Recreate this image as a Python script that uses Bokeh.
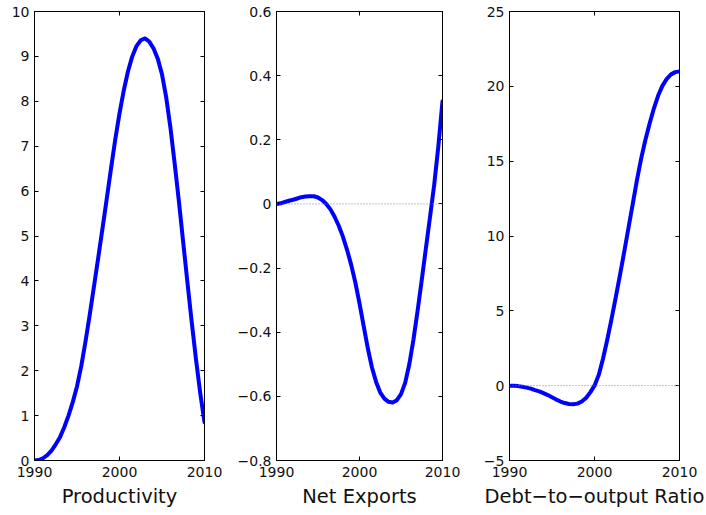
from bokeh.plotting import figure
from bokeh.layouts import row
from bokeh.models import LinearAxis, FixedTicker, Span, Range1d, ColumnDataSource
from bokeh.embed import file_html
from bokeh.resources import INLINE

years = [1990.0, 1990.5, 1991.0, 1991.5, 1992.0, 1992.5, 1993.0, 1993.5, 1994.0, 1994.5,
         1995.0, 1995.5, 1996.0, 1996.5, 1997.0, 1997.5, 1998.0, 1998.5, 1999.0, 1999.5,
         2000.0, 2000.5, 2001.0, 2001.5, 2002.0, 2002.5, 2003.0, 2003.5, 2004.0, 2004.5,
         2005.0, 2005.5, 2006.0, 2006.5, 2007.0, 2007.5, 2008.0, 2008.5, 2009.0, 2009.5,
         2010.0]

productivity = [0.0, 0.01, 0.05, 0.12, 0.22, 0.36, 0.52, 0.74, 1.0, 1.3,
                1.65, 2.1, 2.65, 3.25, 3.88, 4.52, 5.17, 5.83, 6.5, 7.15,
                7.73, 8.24, 8.67, 9.0, 9.23, 9.36, 9.4, 9.33, 9.18, 8.95,
                8.6, 8.08, 7.4, 6.6, 5.75, 4.85, 3.95, 3.08, 2.25, 1.5,
                0.85]

net_exports = [0.0, 0.002, 0.006, 0.01, 0.013, 0.017, 0.021, 0.023, 0.024, 0.024,
               0.02, 0.012, 0.0, -0.017, -0.04, -0.068, -0.102, -0.143, -0.19, -0.245,
               -0.31, -0.38, -0.45, -0.51, -0.555, -0.588, -0.607, -0.617, -0.619, -0.612,
               -0.593, -0.558, -0.5, -0.423, -0.333, -0.237, -0.138, -0.04, 0.06, 0.18,
               0.32]

debt_to_output = [0.0, -0.01, -0.03, -0.07, -0.13, -0.2, -0.3, -0.38, -0.5, -0.63,
                  -0.78, -0.93, -1.06, -1.16, -1.22, -1.24, -1.2, -1.06, -0.82, -0.45,
                  0.0, 0.72, 1.8, 3.07, 4.45, 5.9, 7.4, 8.95, 10.55, 12.15,
                  13.75, 15.2, 16.45, 17.55, 18.55, 19.4, 20.05, 20.5, 20.8, 20.95,
                  21.0]

x_ticks = [1990, 2000, 2010]
prod_ticks = [0, 1, 2, 3, 4, 5, 6, 7, 8, 9, 10]
prod_labels = ["0", "1", "2", "3", "4", "5", "6", "7", "8", "9", "10"]
nx_ticks = [-0.8, -0.6, -0.4, -0.2, 0, 0.2, 0.4, 0.6]
nx_labels = ["\u22120.8", "\u22120.6", "\u22120.4", "\u22120.2", "0", "0.2", "0.4", "0.6"]
debt_ticks = [-5, 0, 5, 10, 15, 20, 25]
debt_labels = ["\u22125", "0", "5", "10", "15", "20", "25"]

FONT = "DejaVu Sans"


def style_axis(ax, ticks, labels=None, show_labels=True):
    ax.ticker = FixedTicker(ticks=ticks)
    ax.minor_tick_line_color = None
    ax.major_tick_in = 4
    ax.major_tick_out = 0
    ax.axis_line_color = "black"
    ax.major_tick_line_color = "black"
    ax.major_label_text_font = FONT
    if labels is not None:
        ax.major_label_overrides = {t: l for t, l in zip(ticks, labels)}
    if show_labels:
        ax.major_label_text_font_size = "14px"
        ax.major_label_text_color = "#111111"
    else:
        ax.major_label_text_font_size = "1px"
        ax.major_label_text_color = None
        ax.major_label_standoff = 0


def panel(y, yr, yticks, ylabels, xlabel, width, left, right, zero_line):
    p = figure(width=width, height=515, x_range=Range1d(1990, 2010), y_range=Range1d(*yr),
               output_backend="svg", toolbar_location=None,
               min_border_left=left, min_border_right=right,
               min_border_top=11, min_border_bottom=55)
    p.xgrid.visible = False
    p.ygrid.visible = False
    p.outline_line_color = "black"
    p.outline_line_alpha = 1
    p.background_fill_color = "white"
    p.border_fill_color = "white"

    style_axis(p.xaxis[0], x_ticks)
    p.xaxis[0].major_label_standoff = 6
    p.xaxis[0].axis_label = xlabel
    p.xaxis[0].axis_label_text_font = FONT
    p.xaxis[0].axis_label_text_font_size = "19.5px"
    p.xaxis[0].axis_label_text_font_style = "normal"
    p.xaxis[0].axis_label_text_color = "#111111"
    p.xaxis[0].axis_label_standoff = 5

    style_axis(p.yaxis[0], yticks, ylabels)
    p.yaxis[0].major_label_standoff = 5

    top = LinearAxis()
    style_axis(top, x_ticks, show_labels=False)
    p.add_layout(top, "above")
    rt = LinearAxis()
    style_axis(rt, yticks, show_labels=False)
    p.add_layout(rt, "right")

    if zero_line:
        p.add_layout(Span(location=0, dimension="width", line_color="#808080",
                          line_width=1, line_dash="1 2"))

    src = ColumnDataSource(data=dict(x=years, y=y))
    p.line("x", "y", source=src, line_color="#0000ff", line_width=4,
           line_join="round", line_cap="round")
    return p


p1 = panel(productivity, (0, 10), prod_ticks, prod_labels, "Productivity", 234, 34, 30, False)
p2 = panel(net_exports, (-0.8, 0.6), nx_ticks, nx_labels, "Net Exports", 237, 38, 29, True)
p3 = panel(debt_to_output, (-5, 25), debt_ticks, debt_labels,
           "Debt\u2212to\u2212output Ratio", 235, 38, 27, True)

layout = row(p1, p2, p3)
open("out.html", "w").write(file_html(layout, INLINE))
